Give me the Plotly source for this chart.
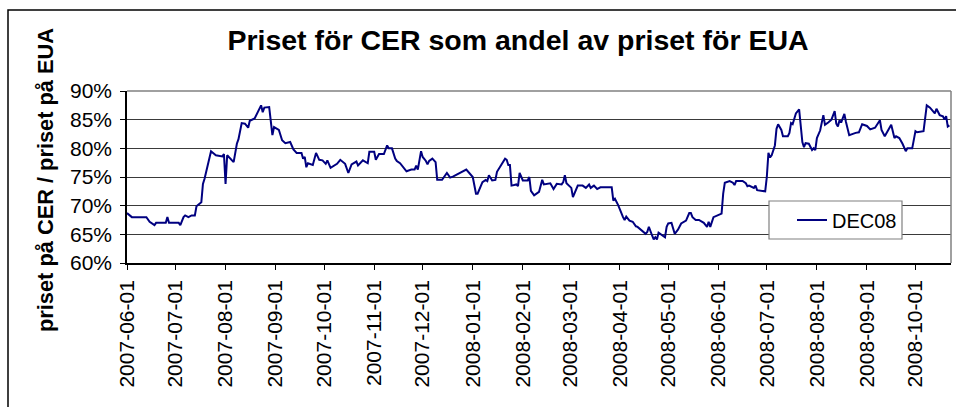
import plotly.graph_objects as go

dates = [
    "2007-06-01", "2007-06-04", "2007-06-08", "2007-06-13", "2007-06-15", "2007-06-18", "2007-06-19",
    "2007-06-25", "2007-06-26", "2007-06-27", "2007-07-03", "2007-07-04", "2007-07-06", "2007-07-07",
    "2007-07-09", "2007-07-11", "2007-07-13", "2007-07-14", "2007-07-17", "2007-07-18", "2007-07-19",
    "2007-07-23", "2007-07-26", "2007-07-30", "2007-07-31", "2007-08-01", "2007-08-02", "2007-08-04",
    "2007-08-06", "2007-08-08", "2007-08-09", "2007-08-11", "2007-08-13", "2007-08-15", "2007-08-16",
    "2007-08-19", "2007-08-20", "2007-08-21", "2007-08-23", "2007-08-24", "2007-08-25", "2007-08-28",
    "2007-08-29", "2007-08-30", "2007-08-31", "2007-09-03", "2007-09-05", "2007-09-07", "2007-09-10",
    "2007-09-12", "2007-09-14", "2007-09-17", "2007-09-18", "2007-09-19", "2007-09-20", "2007-09-21",
    "2007-09-24", "2007-09-26", "2007-09-28", "2007-09-30", "2007-10-02", "2007-10-03", "2007-10-05",
    "2007-10-06", "2007-10-09", "2007-10-11", "2007-10-14", "2007-10-16", "2007-10-18", "2007-10-21",
    "2007-10-22", "2007-10-25", "2007-10-28", "2007-10-29", "2007-11-01", "2007-11-02", "2007-11-04",
    "2007-11-07", "2007-11-09", "2007-11-10", "2007-11-12", "2007-11-14", "2007-11-15", "2007-11-17",
    "2007-11-21", "2007-11-24", "2007-11-26", "2007-11-27", "2007-11-28", "2007-11-30", "2007-12-01",
    "2007-12-03", "2007-12-04", "2007-12-05", "2007-12-07", "2007-12-09", "2007-12-10", "2007-12-13",
    "2007-12-16", "2007-12-18", "2007-12-20", "2007-12-28", "2008-01-01", "2008-01-03", "2008-01-04",
    "2008-01-07", "2008-01-09", "2008-01-10", "2008-01-11", "2008-01-13", "2008-01-15", "2008-01-16",
    "2008-01-21", "2008-01-22", "2008-01-23", "2008-01-24", "2008-01-25", "2008-01-28", "2008-01-29",
    "2008-01-30", "2008-02-01", "2008-02-04", "2008-02-05", "2008-02-06", "2008-02-08", "2008-02-11",
    "2008-02-12", "2008-02-13", "2008-02-14", "2008-02-18", "2008-02-20", "2008-02-22", "2008-02-25",
    "2008-02-26", "2008-02-27", "2008-02-28", "2008-03-02", "2008-03-03", "2008-03-06", "2008-03-09",
    "2008-03-11", "2008-03-13", "2008-03-14", "2008-03-16", "2008-03-18", "2008-03-20", "2008-03-27",
    "2008-03-28", "2008-03-29", "2008-03-31", "2008-04-03", "2008-04-04", "2008-04-05", "2008-04-07",
    "2008-04-09", "2008-04-11", "2008-04-12", "2008-04-15", "2008-04-17", "2008-04-18", "2008-04-19",
    "2008-04-21", "2008-04-22", "2008-04-23", "2008-04-24", "2008-04-25", "2008-04-28", "2008-04-29",
    "2008-04-30", "2008-05-01", "2008-05-03", "2008-05-05", "2008-05-07", "2008-05-09", "2008-05-12",
    "2008-05-14", "2008-05-15", "2008-05-16", "2008-05-18", "2008-05-20", "2008-05-23", "2008-05-25",
    "2008-05-26", "2008-05-27", "2008-05-29", "2008-06-01", "2008-06-03", "2008-06-04", "2008-06-05",
    "2008-06-08", "2008-06-10", "2008-06-11", "2008-06-12", "2008-06-16", "2008-06-18", "2008-06-19",
    "2008-06-20", "2008-06-23", "2008-06-24", "2008-06-25", "2008-06-30", "2008-07-01", "2008-07-02",
    "2008-07-03", "2008-07-04", "2008-07-06", "2008-07-07", "2008-07-08", "2008-07-10", "2008-07-11",
    "2008-07-14", "2008-07-15", "2008-07-16", "2008-07-17", "2008-07-19", "2008-07-21", "2008-07-22",
    "2008-07-23", "2008-07-24", "2008-07-25", "2008-07-27", "2008-07-29", "2008-07-30", "2008-07-31",
    "2008-08-01", "2008-08-03", "2008-08-05", "2008-08-06", "2008-08-08", "2008-08-10", "2008-08-12",
    "2008-08-13", "2008-08-14", "2008-08-15", "2008-08-16", "2008-08-18", "2008-08-19", "2008-08-21",
    "2008-08-25", "2008-08-27", "2008-08-29", "2008-08-30", "2008-09-01", "2008-09-03", "2008-09-06",
    "2008-09-09", "2008-09-10", "2008-09-12", "2008-09-14", "2008-09-16", "2008-09-18", "2008-09-19",
    "2008-09-21", "2008-09-23", "2008-09-25", "2008-09-26", "2008-09-29", "2008-10-01", "2008-10-02",
    "2008-10-06", "2008-10-08", "2008-10-10", "2008-10-13", "2008-10-14", "2008-10-16", "2008-10-18",
    "2008-10-19", "2008-10-20", "2008-10-21", "2008-10-22",
]

dec08 = [
    68.7, 68.0, 68.0, 68.0, 67.2, 66.6, 67.0,
    67.0, 68.0, 67.0, 67.0, 66.6, 68.0, 68.3,
    68.0, 68.3, 68.3, 69.9, 70.6, 73.8, 74.7,
    79.5, 78.8, 78.6, 79.0, 73.8, 78.8, 78.2,
    77.6, 80.8, 81.6, 84.4, 84.3, 83.6, 84.8,
    85.2, 85.8, 86.1, 87.5, 86.3, 87.1, 87.2,
    84.3, 82.3, 83.7, 83.2, 81.4, 80.9, 81.1,
    79.8, 79.2, 79.2, 78.2, 78.5, 76.7, 77.4,
    77.1, 79.2, 78.0, 77.9, 77.3, 77.9, 76.6,
    76.8, 77.3, 78.0, 77.3, 75.7, 77.2, 77.7,
    77.0, 77.9, 77.4, 79.4, 79.4, 78.0, 79.0,
    79.0, 80.5, 80.0, 80.0, 78.2, 77.8, 77.4,
    76.0, 76.3, 76.3, 77.0, 76.3, 79.5, 78.5,
    77.8, 77.2, 77.8, 78.2, 77.6, 74.5, 74.5,
    75.7, 74.9, 75.1, 76.3, 75.0, 72.1, 72.1,
    74.1, 74.5, 74.3, 75.3, 74.4, 74.5, 75.9,
    78.2, 78.0, 77.1, 77.1, 73.5, 73.7, 73.4,
    75.7, 74.4, 74.4, 75.0, 72.6, 71.8, 72.4,
    73.4, 74.5, 73.7, 73.9, 72.9, 73.8, 73.7,
    74.1, 75.3, 73.9, 73.1, 71.5, 73.5, 73.5,
    73.1, 73.7, 73.1, 73.5, 72.9, 73.2, 73.2,
    70.9, 71.2, 70.1, 68.0, 67.5, 68.1, 67.4,
    67.2, 66.4, 66.3, 65.6, 65.1, 65.4, 66.3,
    64.8, 64.1, 64.5, 64.1, 65.3, 64.8, 64.5,
    66.3, 66.9, 67.0, 65.1, 65.8, 66.9, 67.4,
    68.7, 68.7, 68.0, 67.5, 67.5, 67.0, 66.3,
    67.2, 66.3, 68.0, 68.3, 68.6, 72.1, 74.0,
    74.3, 74.0, 73.6, 74.3, 74.3, 73.9, 73.4,
    73.5, 73.1, 73.5, 72.7, 72.5, 75.0, 79.2,
    78.4, 78.8, 80.5, 83.4, 84.2, 83.2, 82.1,
    82.1, 82.7, 84.4, 84.2, 86.1, 86.8, 83.4,
    81.1, 80.2, 80.9, 80.8, 79.7, 80.0, 79.7,
    81.8, 83.1, 85.8, 84.1, 84.5, 85.0, 86.5,
    84.3, 83.8, 84.9, 84.5, 86.0, 84.6, 82.3,
    82.7, 82.8, 84.2, 84.1, 83.9, 83.3, 83.6,
    84.9, 83.2, 82.1, 83.0, 84.1, 81.8, 82.1,
    81.8, 80.8, 79.5, 80.0, 80.0, 83.0, 82.8,
    83.0, 87.5, 87.1, 86.1, 86.9, 85.8, 85.6,
    85.0, 85.6, 83.8, 84.0,
]

series_name = "DEC08"
title_text = "Priset för CER som andel av priset för EUA"
y_title = "priset på CER / priset på EUA"
y_ticks = [0.60, 0.65, 0.70, 0.75, 0.80, 0.85, 0.90]

FONT = "Arial, 'Liberation Sans', sans-serif"

# layout geometry (pixels)
W, H = 956, 407
L, R, T, B = 127, 951, 91, 263
pw, ph = R - L, B - T

def px(xp):
    return (xp - L) / pw

def py(yp):
    return (B - yp) / ph

fig = go.Figure()
fig.add_trace(go.Scatter(
    x=dates, y=[v / 100 for v in dec08], mode="lines", name=series_name,
    line=dict(color="#000080", width=2),
))

fig.update_layout(
    width=W, height=H, autosize=False,
    margin=dict(l=L, r=W - R, t=T, b=H - B, autoexpand=False),
    paper_bgcolor="white", plot_bgcolor="white",
    font=dict(family=FONT, color="black"),
    showlegend=True,
    title=dict(
        text="<b>" + title_text + "</b>", font=dict(size=28.5, family=FONT, color="black"),
        x=518 / W, xanchor="center", y=1 - 40.5 / H, yanchor="middle", yref="container",
    ),
    legend=dict(
        x=px(792), y=py(220), xanchor="left", yanchor="middle",
        bgcolor="rgba(0,0,0,0)", borderwidth=0,
        font=dict(size=20, family=FONT, color="black"),
    ),
)

fig.update_xaxes(
    type="date", range=["2007-06-01", "2008-10-23"], automargin=False,
    tick0="2007-06-01", dtick="M1", tickformat="%Y-%m-%d", tickangle=-90,
    ticks="outside", ticklen=5, tickcolor="black",
    showline=True, linecolor="black", linewidth=1.5,
    showgrid=False, zeroline=False,
    tickfont=dict(size=21, family=FONT, color="black"),
    ticklabelstandoff=2,
)
fig.update_yaxes(
    range=[0.6, 0.9], tickvals=y_ticks, tickformat=".0%", automargin=False,
    ticks="outside", ticklen=5, tickcolor="black",
    showline=True, linecolor="black", linewidth=1.5,
    showgrid=True, gridcolor="#3a3a3a", gridwidth=1, zeroline=False,
    tickfont=dict(size=21, family=FONT, color="black"),
    ticklabelstandoff=4,
)

# y axis title as rotated annotation
fig.add_annotation(
    text="<b>" + y_title + "</b>", xref="paper", yref="paper",
    x=px(45), y=py(180), xanchor="center", yanchor="middle", textangle=-90,
    showarrow=False, font=dict(size=21.8, family=FONT, color="black"),
)

# legend box (behind native legend entry)
fig.add_shape(type="rect", xref="paper", yref="paper",
              x0=px(769), x1=px(902), y0=py(239), y1=py(201),
              line=dict(color="#808080", width=1.2), fillcolor="white", layer="above")
# plot-area border (top/right grey), outer chart border (black)
fig.add_shape(type="line", xref="paper", yref="paper", x0=0, x1=1, y0=1, y1=1,
              line=dict(color="#808080", width=1.5), layer="above")
fig.add_shape(type="line", xref="paper", yref="paper", x0=1, x1=1, y0=0, y1=1,
              line=dict(color="#808080", width=1.5), layer="above")
fig.add_shape(type="rect", xref="paper", yref="paper",
              x0=px(8), x1=px(1100), y0=py(600), y1=py(10),
              line=dict(color="black", width=1.5), fillcolor="rgba(0,0,0,0)", layer="above")

fig.write_html(
    "out.html",
    config={"displayModeBar": False},
    post_script="document.body.style.margin='0';document.body.style.overflow='hidden';",
)
